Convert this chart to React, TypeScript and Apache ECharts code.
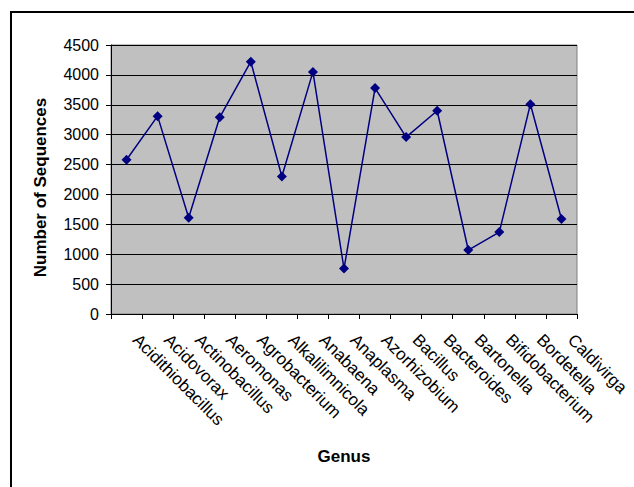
import React, { useEffect, useRef } from "react";
import * as echarts from "echarts";

const categories = [
  "Acidithiobacillus",
  "Acidovorax",
  "Actinobacillus",
  "Aeromonas",
  "Agrobacterium",
  "Alkalilimnicola",
  "Anabaena",
  "Anaplasma",
  "Azorhizobium",
  "Bacillus",
  "Bacteroides",
  "Bartonella",
  "Bifidobacterium",
  "Bordetella",
  "Caldivirga",
];

const sequences = [2580, 3310, 1610, 3290, 4220, 2300, 4050, 760, 3780, 2960, 3400, 1070, 1370, 3510, 1590];

const yMin = 0;
const yMax = 4500;
const yInterval = 500;

export default function App() {
  const ref = useRef<HTMLDivElement>(null);
  useEffect(() => {
    if (!ref.current) return;
    const chart = echarts.init(ref.current, null, { renderer: "svg" });
    const font = "'Liberation Sans', Arial, sans-serif";
    chart.setOption({
      animation: false,
      backgroundColor: "#ffffff",
      textStyle: { fontFamily: font },
      graphic: [
        {
          type: "rect",
          shape: { x: 11, y: 12, width: 660, height: 520 },
          style: { fill: "none", stroke: "#000", lineWidth: 2 },
          silent: true,
        },
      ],
      grid: {
        left: 111,
        right: 57,
        top: 45,
        bottom: 173,
        show: true,
        backgroundColor: "#c0c0c0",
        borderColor: "#808080",
        borderWidth: 1,
      },
      xAxis: {
        type: "category",
        data: categories,
        boundaryGap: true,
        name: "Genus",
        nameLocation: "middle",
        nameGap: 134,
        nameTextStyle: { fontFamily: font, fontSize: 17, fontWeight: "bold", color: "#000" },
        axisLine: { lineStyle: { color: "#000", width: 1 } },
        axisTick: { show: true, length: 5, lineStyle: { color: "#000" }, alignWithLabel: false },
        axisLabel: {
          rotate: -45,
          interval: 0,
          margin: 14,
          padding: [0, 0, 0, 13],
          fontFamily: font,
          fontSize: 17,
          color: "#000",
        },
        splitLine: { show: false },
      },
      yAxis: {
        type: "value",
        min: yMin,
        max: yMax,
        interval: yInterval,
        name: "Number of Sequences",
        nameLocation: "middle",
        nameGap: 62,
        nameTextStyle: {
          fontFamily: font,
          fontSize: 17,
          fontWeight: "bold",
          color: "#000",
          padding: [0, 16, 0, 0],
        },
        axisLine: { show: true, lineStyle: { color: "#000", width: 1 } },
        axisTick: { show: true, length: 5, lineStyle: { color: "#000" } },
        axisLabel: {
          margin: 12,
          fontFamily: font,
          fontSize: 16,
          color: "#000",
          formatter: (v: number) => String(v),
        },
        splitLine: { show: true, lineStyle: { color: "#000", width: 1 } },
      },
      series: [
        {
          type: "line",
          data: sequences,
          symbol: "diamond",
          symbolSize: 10,
          lineStyle: { color: "#000080", width: 1.5 },
          itemStyle: { color: "#000080" },
        },
      ],
    });
    return () => chart.dispose();
  }, []);
  return (
    <div
      ref={ref}
      style={{ position: "fixed", left: 0, top: 0, width: 634, height: 487 }}
    />
  );
}
